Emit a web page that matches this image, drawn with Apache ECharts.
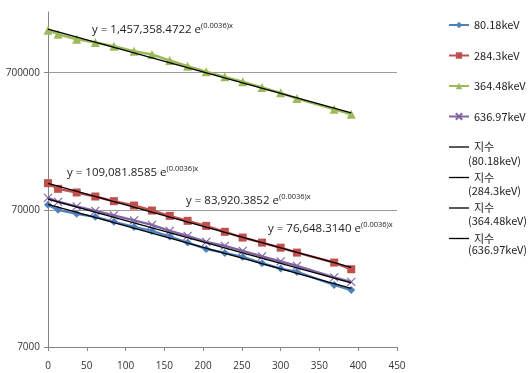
<!DOCTYPE html>
<html>
<head>
<meta charset="utf-8">
<script src="https://cdn.jsdelivr.net/npm/echarts@6/dist/echarts.min.js"></script>
<style>
  html, body { margin: 0; padding: 0; background: #fff; }
  #chart { width: 532px; height: 373px; }
</style>
</head>
<body>
<div id="chart"></div>
<script>
// Elapsed time (x) shared by every energy line
var xValues = [0, 13, 37, 61, 85, 111, 134, 157, 180, 204, 228, 251, 276, 300, 321, 369, 391];

// Measured counts per gamma line
var seriesNames = ['80.18keV', '284.3keV', '364.48keV', '636.97keV'];
var counts80 = [76140, 70000, 65450, 62230, 57230, 52570, 49180, 44700, 40400, 36330, 33990, 31770, 28580, 26100, 24690, 19850, 18250];
var counts284 = [109600, 99600, 93700, 87600, 81000, 75250, 69200, 63300, 58200, 53500, 48400, 43950, 40400, 37100, 34150, 28900, 25830];
var counts364 = [1430000, 1337000, 1229000, 1163000, 1093000, 1005000, 951000, 859000, 780000, 711000, 653000, 601000, 546000, 499000, 454000, 379000, 348500];
var counts636 = [85630, 80090, 74240, 68830, 63830, 58670, 54400, 49180, 45210, 40880, 38230, 35150, 32030, 29450, 27310, 22510, 20870];

// Exponential trendline coefficients y = a * e^(-k x)
var trendA = [76648.3140, 109081.8585, 1457358.4722, 83920.3852];
var trendK = [0.0036, 0.0036, 0.0036, 0.0036];
var trendLabels = ['76,648.3140', '109,081.8585', '1,457,358.4722', '83,920.3852'];
var trendNames = ['지수 (80.18keV)', '지수 (284.3keV)', '지수 (364.48keV)', '지수 (636.97keV)'];

// Axis ticks (one decade apart, starting at 7000)
var yTicks = [7000, 70000, 700000];
var yMax = 1940000;
var xMin = 0, xMax = 450, xStep = 50;

var allCounts = [counts80, counts284, counts364, counts636];
var colors = ['#4F81BD', '#C0504D', '#9BBB59', '#8064A2'];
var symbols = ['diamond', 'rect', 'triangle', 'path://M0,0L10,10M10,0L0,10'];
var symbolSizes = [8, 8, 9, 8];

var series = [];
seriesNames.forEach(function (name, i) {
  series.push({
    name: name,
    type: 'line',
    data: xValues.map(function (x, j) { return [x, allCounts[i][j]]; }),
    symbol: symbols[i],
    symbolSize: symbolSizes[i],
    lineStyle: { color: colors[i], width: 2.5 },
    itemStyle: { color: colors[i], borderColor: colors[i], borderWidth: i === 3 ? 1.2 : 0 },
    z: 2
  });
});

var xEnd = xValues[xValues.length - 1];
trendNames.forEach(function (name, i) {
  series.push({
    name: name,
    type: 'line',
    data: [[xValues[0], trendA[i] * Math.exp(-trendK[i] * xValues[0])],
           [xEnd, trendA[i] * Math.exp(-trendK[i] * xEnd)]],
    symbol: 'none',
    lineStyle: { color: '#000', width: 1.3 },
    itemStyle: { color: '#000' },
    z: 3
  });
});

// Equation labels beside each trendline
var eqPos = [[268, 229], [67, 173], [92, 30], [186, 201]];
var graphics = trendLabels.map(function (txt, i) {
  return {
    type: 'text',
    left: eqPos[i][0],
    top: eqPos[i][1] - 8,
    style: {
      text: '{m|y = ' + txt + ' e}{s|(' + trendK[i].toFixed(4) + ')x}',
      rich: {
        m: { fontSize: 11.5, fontFamily: 'Open Sans, sans-serif', fill: '#222', lineHeight: 16 },
        s: { fontSize: 7.5, fontFamily: 'Open Sans, sans-serif', fill: '#222', verticalAlign: 'top', lineHeight: 16 }
      }
    },
    z: 10
  };
});

// Second line of each trendline legend entry
var legendSub = ['(80.18keV)', '(284.3keV)', '(364.48keV)', '(636.97keV)'];
var legendSubY = [163, 193, 223, 252];
legendSub.forEach(function (t, i) {
  graphics.push({
    type: 'text',
    left: 468,
    top: legendSubY[i] - 8,
    style: { text: t, fontSize: 11, fontFamily: 'Noto Sans CJK KR, sans-serif', fill: '#222' },
    z: 10
  });
});

var legendData = seriesNames.map(function (n) { return { name: n }; })
  .concat(trendNames.map(function (n) { return { name: n, icon: 'path://M0,0H20V1.3H0Z' }; }));

function yLabel(v) {
  for (var i = 0; i < yTicks.length; i++) {
    if (Math.abs(v - yTicks[i]) / yTicks[i] < 0.01) return String(yTicks[i]);
  }
  return '';
}

var chart = echarts.init(document.getElementById('chart'), null, { renderer: 'canvas' });
chart.setOption({
  animation: false,
  backgroundColor: '#fff',
  grid: { left: 48, right: 135, top: 12, bottom: 26, containLabel: false },
  legend: {
    orient: 'vertical',
    left: 443,
    top: 13,
    itemWidth: 20,
    itemHeight: 8,
    itemGap: 16.5,
    data: legendData,
    formatter: function (n) { return n.indexOf('지수') === 0 ? '지수' : n; },
    textStyle: { fontSize: 11, fontFamily: 'Noto Sans CJK KR, sans-serif', color: '#222', lineHeight: 14 }
  },
  xAxis: {
    type: 'value',
    min: xMin,
    max: xMax,
    interval: xStep,
    axisLine: { lineStyle: { color: '#868686', width: 1 } },
    axisTick: { show: true, length: 4, lineStyle: { color: '#868686' } },
    axisLabel: { fontSize: 10, color: '#333', margin: 14, fontFamily: 'Open Sans, sans-serif' },
    splitLine: { show: false }
  },
  yAxis: {
    type: 'log',
    logBase: 10,
    min: yTicks[0],
    max: yMax,
    // one decade per tick; the tiny excess keeps the log-space rounding precise
    interval: 1.000001,
    axisLine: { show: true, lineStyle: { color: '#868686', width: 1 } },
    axisTick: { show: true, length: 4, lineStyle: { color: '#868686' } },
    axisLabel: {
      fontSize: 10, color: '#333', margin: 8, fontFamily: 'Open Sans, sans-serif',
      showMaxLabel: false,
      formatter: yLabel
    },
    splitLine: { show: true, showMaxLine: false, lineStyle: { color: '#9a9a9a', width: 1 } }
  },
  series: series,
  graphic: graphics
});
</script>
</body>
</html>
